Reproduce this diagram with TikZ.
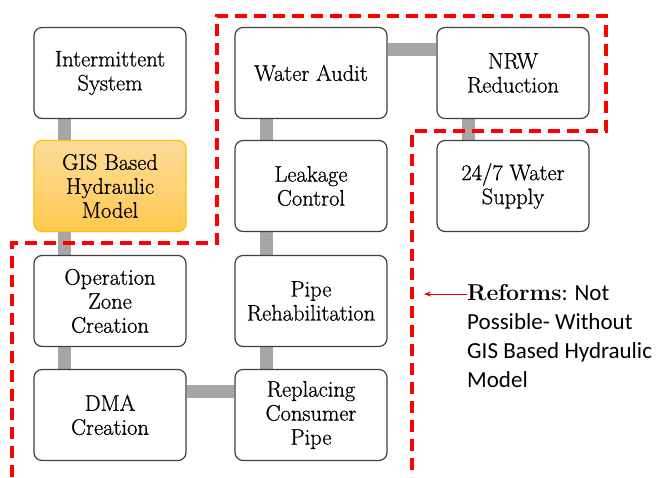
\documentclass[tikz,border=0pt]{standalone}
\usepackage{fontspec}
\newfontfamily\boxfont{Latin Modern Roman}[FakeBold=0.8]
\newfontfamily\notefont{Carlito}
\usetikzlibrary{backgrounds,arrows.meta}
\definecolor{boxline}{HTML}{404040}
\definecolor{linkgray}{HTML}{A6A6A6}
\definecolor{zonered}{HTML}{FF0000}
\definecolor{gistop}{HTML}{FDDC9C}
\definecolor{gisbottom}{HTML}{FFC94F}
\definecolor{gisline}{HTML}{FFC000}
\begin{document}
\begin{tikzpicture}[x=1pt,y=-1pt,
  box/.style={draw=boxline, line width=1.2pt, rounded corners=8pt, fill=white,
    minimum width=152pt, minimum height=91pt, inner sep=0pt, align=center,
    font=\boxfont\fontsize{22.5}{24}\selectfont},
  gisbox/.style={box, draw=gisline, top color=gistop, bottom color=gisbottom},
  link/.style={draw=linkgray, line width=13pt},
  zone/.style={draw=zonered, line width=3.2pt, dash pattern=on 12pt off 7pt},
  pointer/.style={draw=red!85!black, line width=1pt, -{Stealth[length=7pt,width=5pt]}},
  note/.style={align=left, inner sep=0pt, anchor=north west,
    font=\notefont\fontsize{23}{29}\selectfont}]
\useasboundingbox (0,0) rectangle (663,477);

% column 1
\node[box]    (inter) at (110,73)  {Intermittent\\System};
\node[gisbox] (gis)   at (110,186) {GIS Based\\Hydraulic\\Model};
\node[box]    (oper)  at (110,301) {Operation\\Zone\\Creation};
\node[box]    (dma)   at (110,415) {DMA\\Creation};
% column 2
\node[box]    (audit) at (311,73)  {Water Audit};
\node[box]    (leak)  at (311,186) {Leakage\\Control};
\node[box]    (pipe)  at (311,301) {Pipe\\Rehabilitation};
\node[box]    (repl)  at (311,415) {Replacing\\Consumer\\Pipe};
% column 3
\node[box]    (nrw)   at (513,73)  {NRW\\Reduction};
\node[box]    (supply) at (513,186) {24/7 Water\\Supply};

% grey links behind the boxes
\begin{scope}[on background layer]
  \draw[link] ([xshift=-45.5pt]inter.south) -- ([xshift=-45.5pt]gis.north);
  \draw[link] ([xshift=-45.5pt]gis.south)   -- ([xshift=-45.5pt]oper.north);
  \draw[link] ([xshift=-45.5pt]oper.south)  -- ([xshift=-45.5pt]dma.north);
  \draw[link] ([yshift=24pt]dma.east)       -- ([yshift=24pt]repl.west);
  \draw[link] ([xshift=-44.5pt]repl.north)  -- ([xshift=-44.5pt]pipe.south);
  \draw[link] ([xshift=-44.5pt]pipe.north)  -- ([xshift=-44.5pt]leak.south);
  \draw[link] ([xshift=-44.5pt]leak.north)  -- ([xshift=-44.5pt]audit.south);
  \draw[link] ([yshift=24pt]audit.east)     -- ([yshift=24pt]nrw.west);
  \draw[link] ([xshift=-44.5pt]nrw.south)   -- ([xshift=-44.5pt]supply.north);
\end{scope}

% dashed boundary of the reform zone
\coordinate (z1) at (12,477);
\coordinate (z2) at (12,243);
\coordinate (z3) at (217,243);
\coordinate (z4) at (217,16);
\coordinate (z5) at (606,16);
\coordinate (z6) at (606,131);
\coordinate (z7) at (412,131);
\coordinate (z8) at (412,477);
\draw[zone] (z1) -- (z2) -- (z3) -- (z4) -- (z5) -- (z6) -- (z7) -- (z8);

% annotation
\node[note] (reform) at (467,284)
  {{\rmfamily\bfseries\fontsize{23}{29}\selectfont Reforms}: Not\\Possible- Without\\GIS Based Hydraulic\\Model};
\coordinate (tip) at (424,294);
\draw[pointer] (tip -| reform.west) -- (tip);
\end{tikzpicture}
\end{document}
